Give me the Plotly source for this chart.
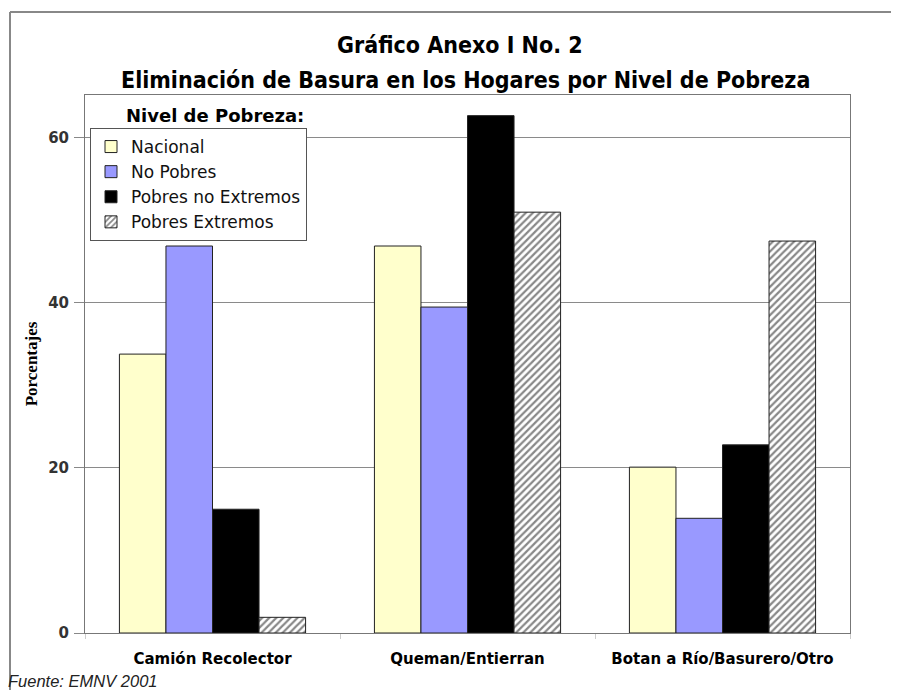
import plotly.graph_objects as go

categories = ["Camión Recolector", "Queman/Entierran", "Botan a Río/Basurero/Otro"]
series_names = ["Nacional", "No Pobres", "Pobres no Extremos", "Pobres Extremos"]
nacional = [33.8, 46.9, 20.1]
no_pobres = [46.9, 39.5, 13.9]
pobres_no_ext = [15.0, 62.7, 22.8]
pobres_ext = [1.9, 51.0, 47.5]
y_ticks = [0, 20, 40, 60]
title_lines = ["Gráfico Anexo I No. 2",
               "Eliminación de Basura en los Hogares por Nivel de Pobreza"]

values = [nacional, no_pobres, pobres_no_ext, pobres_ext]
fills = ["#FFFFCC", "#9999FF", "#000000", "#FFFFFF"]

fig = go.Figure()
for name, vals, col in zip(series_names, values, fills):
    marker = dict(color=col, line=dict(color="#222222", width=1))
    if name == "Pobres Extremos":
        marker["pattern"] = dict(shape="/", fgcolor="#111111", bgcolor="#FFFFFF",
                                 size=5, solidity=0.45)
    fig.add_trace(go.Bar(x=categories, y=vals, name=name, marker=marker))

# page is offset by the 8px body margin; plot area spans page x 85..850, y 95..633
PX0, PW, PY0, PH = 85, 765, 633, 538


def px(x):
    return (x - PX0) / PW


def py(y):
    return (PY0 - y) / PH


title_font = dict(family="DejaVu Sans Condensed, Liberation Sans Narrow, DejaVu Sans, sans-serif",
                  size=23, color="black", weight="bold")

fig.update_layout(
    width=899, height=690,
    margin=dict(l=77, r=57, t=87, b=65),
    paper_bgcolor="white", plot_bgcolor="white",
    barmode="group", bargap=0.27, bargroupgap=0,
    showlegend=True,
    legend=dict(
        x=px(90), y=py(128), xanchor="left", yanchor="top",
        bgcolor="white", bordercolor="#555555", borderwidth=1,
        font=dict(family="DejaVu Sans, Verdana, sans-serif", size=17, color="#111111"),
        itemwidth=30, tracegroupgap=0,
    ),
    xaxis=dict(
        showline=True, linecolor="#777777", linewidth=1, mirror=True,
        showgrid=False, tickson="boundaries", ticks="outside", ticklen=5,
        tickcolor="#cccccc", ticklabelstandoff=12,
        tickfont=dict(family="DejaVu Sans, Verdana, sans-serif", size=15,
                      color="black", weight="bold"),
    ),
    yaxis=dict(
        range=[0, 65.2], tickvals=y_ticks,
        showline=True, linecolor="#777777", linewidth=1, mirror=True,
        showgrid=True, gridcolor="#8a8a8a", gridwidth=1,
        ticks="outside", ticklen=10, tickcolor="#888888", ticklabelstandoff=2,
        tickfont=dict(family="DejaVu Sans, Verdana, sans-serif", size=15, color="#333333",
                      weight="bold"),
        title=dict(text="Porcentajes", standoff=6,
                   font=dict(family="Liberation Serif, Times New Roman, serif", size=17,
                             color="black", weight="bold")),
        zeroline=False,
    ),
    annotations=[
        dict(text=title_lines[0], x=px(460), y=py(45), xref="paper", yref="paper",
             xanchor="center", yanchor="middle", showarrow=False, font=title_font),
        dict(text=title_lines[1], x=px(465), y=py(80), xref="paper", yref="paper",
             xanchor="center", yanchor="middle", showarrow=False, font=title_font),
        dict(text="<b>Nivel de Pobreza:</b>", x=px(124), y=py(115), xref="paper", yref="paper",
             xanchor="left", yanchor="middle", showarrow=False,
             font=dict(family="DejaVu Sans, Verdana, sans-serif", size=18, color="black")),
        dict(text="<i>Fuente: EMNV 2001</i>", x=px(6), y=py(681),
             xref="paper", yref="paper", xanchor="left", yanchor="middle", showarrow=False,
             font=dict(family="Liberation Sans, Arial, sans-serif", size=16.5, color="#222222")),
    ],
    shapes=[
        dict(type="line", xref="paper", yref="paper", x0=px(10), x1=px(905),
             y0=py(12), y1=py(12), line=dict(color="#888888", width=2)),
        dict(type="line", xref="paper", yref="paper", x0=px(10), x1=px(10),
             y0=py(12), y1=py(700), line=dict(color="#888888", width=2)),
    ],
)

fig.write_html("out.html")
